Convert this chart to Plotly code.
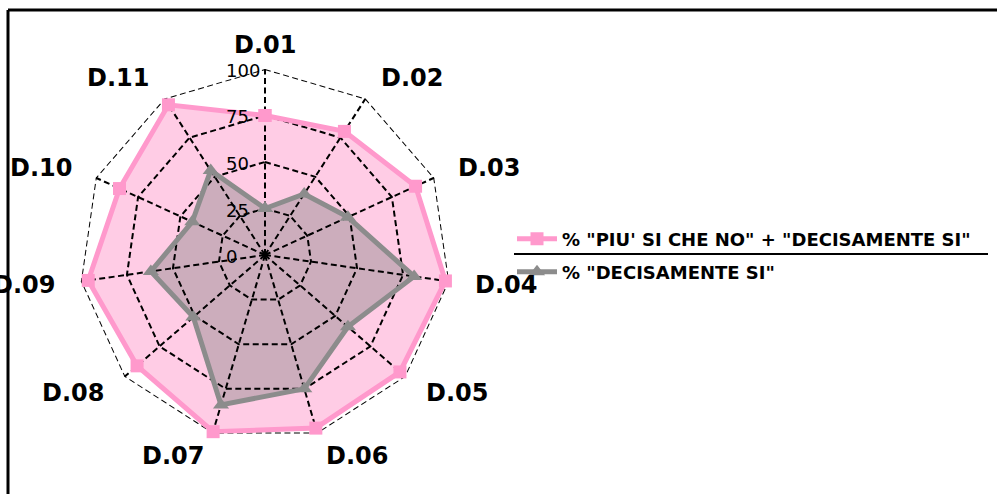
import math
import plotly.graph_objects as go

categories = ["D.01", "D.02", "D.03", "D.04", "D.05", "D.06", "D.07", "D.08", "D.09", "D.10", "D.11"]
piu_si = [75, 79, 89, 98, 96, 97, 99, 91, 96, 86, 96]
decisamente_si = [25, 39, 49, 81, 59, 75, 84, 51, 62, 43, 54]
name_piu = '% "PIU\' SI CHE NO" + "DECISAMENTE SI"'
name_dec = '% "DECISAMENTE SI"'
radial_ticks = [0, 25, 50, 75, 100]
r_max = 100

W, H = 997, 494
cx, cy, R = 265, 255, 186
label_r = 210        # pixel radius of category labels
rlabel_left = 224    # left edge of radial tick labels (pixels)

def closed(v):
    return list(v) + [v[0]]

fig = go.Figure()
# filled areas (below the grid)
fig.add_trace(go.Scatterpolar(
    r=closed(piu_si), theta=closed(categories), mode="none",
    fill="toself", fillcolor="rgba(255,153,204,0.5)",
    hoverinfo="skip", showlegend=False,
))
fig.add_trace(go.Scatterpolar(
    r=closed(decisamente_si), theta=closed(categories), mode="none",
    fill="toself", fillcolor="rgba(128,128,128,0.4)",
    hoverinfo="skip", showlegend=False,
))

# dashed grid drawn above the filled areas, below the lines
grid_line = dict(color="black", width=2, dash="6px,3.5px")
for t in radial_ticks[1:]:
    fig.add_trace(go.Scatterpolar(
        r=[t] * (len(categories) + 1), theta=closed(categories), mode="lines",
        line=grid_line, hoverinfo="skip", showlegend=False, cliponaxis=False,
    ))
for c in categories:
    fig.add_trace(go.Scatterpolar(
        r=[0, r_max], theta=[c, c], mode="lines",
        line=grid_line, hoverinfo="skip", showlegend=False, cliponaxis=False,
    ))

# series lines and markers
fig.add_trace(go.Scatterpolar(
    r=closed(piu_si), theta=closed(categories), name=name_piu,
    mode="lines+markers", cliponaxis=False,
    line=dict(color="#FF99CC", width=5),
    marker=dict(symbol="square", size=13, color="#FF99CC"),
    legend="legend",
))
fig.add_trace(go.Scatterpolar(
    r=closed(decisamente_si), theta=closed(categories), name=name_dec,
    mode="lines+markers", cliponaxis=False,
    line=dict(color="#8C8C8C", width=5),
    marker=dict(symbol="triangle-up", size=14, color="#8C8C8C"),
    legend="legend2",
))

# category labels around the chart
n = len(categories)
for i, c in enumerate(categories):
    a = 2 * math.pi * i / n
    s, co = math.sin(a), math.cos(a)
    px = cx + label_r * s
    py = cy - label_r * co
    if abs(s) < 0.1:
        xa = "center"
    elif s > 0:
        xa = "left"
    else:
        xa = "right"
    fig.add_annotation(
        x=px / W, y=1 - py / H, xref="paper", yref="paper", text=c, showarrow=False,
        xanchor=xa, yanchor="middle",
        font=dict(size=24, color="black", family="DejaVu Sans", weight="bold"),
    )

# radial tick labels
for t in radial_ticks:
    py = cy - R * t / r_max
    fig.add_annotation(
        x=rlabel_left / W, y=1 - (py + 1.5) / H, xref="paper", yref="paper",
        text=str(t), showarrow=False, xanchor="left", yanchor="middle",
        font=dict(size=18, color="black", family="DejaVu Sans"),
    )

fig.update_layout(
    width=W, height=H,
    margin=dict(l=0, r=0, t=0, b=0),
    paper_bgcolor="white", plot_bgcolor="white",
    font=dict(family="DejaVu Sans", color="black"),
    polar=dict(
        domain=dict(x=[(cx - R) / W, (cx + R) / W], y=[(H - cy - R) / H, (H - cy + R) / H]),
        bgcolor="rgba(0,0,0,0)",
        gridshape="linear",
        radialaxis=dict(
            range=[0, r_max], tickvals=radial_ticks, showticklabels=False,
            showline=False, showgrid=False, ticks="",
        ),
        angularaxis=dict(
            rotation=90, direction="clockwise", showline=False, showgrid=False,
            showticklabels=False, ticks="",
        ),
    ),
    legend=dict(x=512 / W, y=1 - 239 / H, xanchor="left", yanchor="middle", itemwidth=40,
                font=dict(size=18, weight="bold"), bgcolor="rgba(0,0,0,0)"),
    legend2=dict(x=512 / W, y=1 - 272 / H, xanchor="left", yanchor="middle", itemwidth=40,
                 font=dict(size=18, weight="bold"), bgcolor="rgba(0,0,0,0)"),
    showlegend=True,
)

fig.add_shape(type="line", xref="paper", yref="paper",
              x0=514 / W, x1=988 / W, y0=1 - 254 / H, y1=1 - 254 / H,
              line=dict(color="black", width=2))
fig.add_shape(type="line", xref="paper", yref="paper",
              x0=8 / W, x1=1.01, y0=1 - 10 / H, y1=1 - 10 / H,
              line=dict(color="black", width=3))
fig.add_shape(type="line", xref="paper", yref="paper",
              x0=8 / W, x1=8 / W, y0=-0.01, y1=1 - 10 / H,
              line=dict(color="black", width=3))

fig.write_html("out.html", config={"displayModeBar": False},
               post_script="document.body.style.margin='0';document.body.style.overflow='hidden';")
